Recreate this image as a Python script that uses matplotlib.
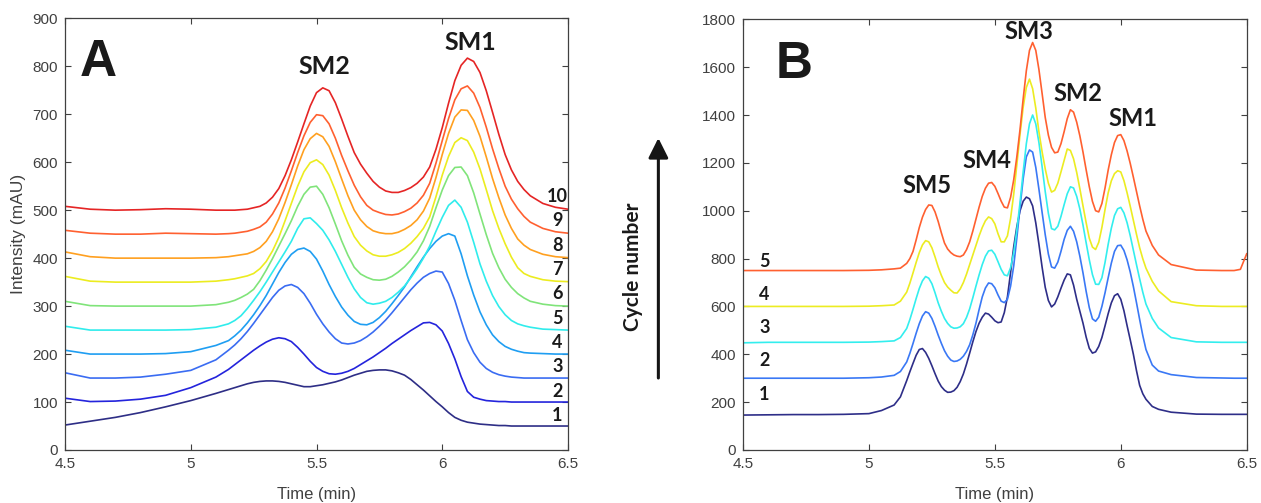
import matplotlib
matplotlib.use('Agg')
import matplotlib.pyplot as plt

plt.rcParams['font.family'] = ['Liberation Sans', 'DejaVu Sans']

# ---- panel A: 10 cycles (mAU) ----
# time grid: coarse on the flat start, 0.025 min through the peaks
tA = ([4.5, 4.6, 4.7, 4.8, 4.9, 5.0, 5.1, 5.15]
      + [round(5.175 + 0.025 * i, 4) for i in range(48)]
      + [6.4, 6.45, 6.5])

a_c1 = [52, 60, 68, 78, 90, 103, 118, 126,
        130, 134, 138, 141, 143, 144, 144, 143, 141, 138,
        135, 132, 132, 134, 136, 139, 142, 146, 151, 156,
        160, 164, 166, 167, 167, 165, 161, 156, 147, 136,
        125, 113, 101, 90, 78, 68, 62, 58, 56, 54,
        53, 52, 51, 51, 50, 50, 50, 50,
        50, 50, 50]
a_c2 = [108, 101, 102, 106, 114, 130, 152, 168,
        178, 188, 198, 208, 217, 225, 231, 234, 232, 226,
        214, 200, 185, 172, 164, 159, 158, 160, 164, 170,
        178, 186, 194, 203, 212, 222, 231, 240, 249, 257,
        265, 266, 261, 248, 222, 190, 153, 122, 110, 106,
        103, 102, 101, 101, 100, 100, 100, 100,
        100, 100, 100]
a_c3 = [161, 150, 150, 152, 158, 166, 188, 208,
        219, 232, 247, 264, 282, 300, 318, 333, 342, 345,
        339, 326, 306, 283, 263, 246, 232, 223, 221, 223,
        228, 236, 246, 258, 271, 286, 302, 318, 334, 348,
        360, 368, 373, 371, 347, 312, 270, 230, 203, 183,
        170, 162, 157, 154, 152, 151, 150, 150,
        150, 150, 150]
a_c4 = [208, 200, 200, 200, 201, 205, 218, 228,
        238, 250, 265, 282, 301, 322, 346, 370, 391, 408,
        418, 421, 414, 398, 373, 345, 320, 298, 281, 268,
        262, 261, 266, 276, 289, 305, 322, 340, 361, 382,
        402, 420, 435, 446, 451, 446, 409, 363, 323, 288,
        261, 240, 226, 216, 210, 206, 203, 202,
        201, 200, 200]
a_c5 = [258, 250, 250, 250, 250, 251, 256, 263,
        270, 280, 295, 312, 330, 350, 371, 392, 413, 435,
        462, 482, 484, 472, 458, 438, 414, 387, 360, 336,
        318, 307, 304, 306, 310, 318, 329, 342, 359, 378,
        400, 425, 456, 485, 510, 521, 506, 475, 433, 388,
        352, 322, 299, 282, 270, 263, 259, 256,
        252, 251, 250]
a_c6 = [310, 301, 300, 300, 300, 300, 303, 308,
        312, 318, 325, 335, 353, 375, 399, 425, 451, 478,
        508, 533, 548, 550, 533, 505, 471, 436, 406, 381,
        367, 360, 355, 354, 356, 362, 371, 382, 396, 413,
        436, 466, 505, 542, 572, 589, 590, 572, 536, 492,
        449, 410, 380, 356, 339, 326, 317, 310,
        304, 301, 300]
a_c7 = [362, 352, 350, 350, 350, 350, 352, 355,
        357, 360, 363, 368, 378, 393, 415, 443, 478, 514,
        550, 580, 599, 605, 595, 573, 541, 505, 473, 445,
        427, 415, 407, 404, 404, 407, 412, 420, 431, 445,
        462, 486, 528, 573, 612, 641, 651, 645, 621, 586,
        543, 499, 462, 430, 402, 380, 368, 362,
        355, 352, 351]
a_c8 = [413, 403, 400, 400, 400, 400, 401, 403,
        405, 407, 409, 414, 422, 435, 455, 482, 516, 553,
        592, 626, 649, 660, 653, 633, 601, 565, 530, 500,
        480, 466, 457, 453, 451, 451, 454, 460, 468, 480,
        498, 525, 568, 616, 660, 694, 709, 708, 687, 654,
        611, 566, 526, 490, 462, 440, 427, 418,
        408, 403, 401]
a_c9 = [458, 452, 450, 450, 452, 451, 450, 451,
        452, 454, 456, 460, 465, 475, 492, 515, 546, 582,
        620, 655, 683, 699, 697, 680, 650, 614, 582, 552,
        528, 510, 500, 495, 491, 490, 492, 497, 504, 515,
        531, 556, 598, 645, 691, 730, 753, 759, 744, 714,
        673, 628, 587, 550, 523, 503, 487, 475,
        462, 455, 452]
a_c10 = [508, 502, 500, 501, 503, 502, 500, 500,
         500, 501, 502, 505, 508, 515, 527, 545, 572, 605,
         642, 680, 717, 745, 755, 749, 724, 690, 654, 620,
         596, 577, 560, 548, 540, 537, 537, 541, 547, 556,
         569, 590, 627, 672, 723, 770, 802, 817, 810, 787,
         749, 704, 658, 616, 584, 560, 543, 530,
         514, 506, 502]
colors_A = ['#2e2e86', '#2424dc', '#3a6cf2', '#1f9ef2', '#30ecec',
            '#80e47a', '#ecec20', '#ffa020', '#ff6030', '#e52525']
labels_A = ['1', '2', '3', '4', '5', '6', '7', '8', '9', '10']
label_y_A = [71, 122, 174, 224, 275, 327, 377, 427, 479, 529]

# ---- panel B: 5 cycles ----
tB = ([4.5, 4.6, 4.7, 4.8, 4.9, 5.0, 5.05, 5.1, 5.125, 5.15]
      + [round(5.1625 + 0.0125 * i, 4) for i in range(76)]
      + [6.125, 6.15, 6.2, 6.3, 6.4, 6.45, 6.475, 6.5])

b_c1 = [146, 147, 148, 148, 149, 152, 165, 188, 222, 290,
        327, 362, 396, 420, 424, 408, 383, 352, 319, 288,
        265, 250, 241, 242, 248, 262, 286, 318, 359, 405,
        452, 495, 530, 555, 572, 568, 555, 540, 532, 535,
        574, 640, 742, 850, 935, 1000, 1040, 1057, 1050, 1020,
        949, 860, 765, 680, 625, 598, 610, 640, 676, 710,
        736, 732, 689, 630, 580, 530, 472, 425, 405, 410,
        433, 470, 519, 570, 615, 645, 653, 630, 582, 520,
        461, 400, 331, 270, 235, 212,
        182, 170, 158, 150, 149, 149, 149, 149]
b_c2 = [300, 300, 300, 300, 300, 302, 305, 312, 328, 368,
        404, 445, 488, 528, 560, 578, 572, 550, 517, 480,
        446, 415, 392, 376, 370, 372, 379, 392, 412, 440,
        481, 530, 587, 640, 677, 698, 695, 678, 648, 622,
        616, 630, 685, 770, 888, 1015, 1134, 1225, 1254, 1245,
        1181, 1090, 994, 900, 819, 765, 760, 785, 830, 880,
        918, 935, 914, 870, 810, 740, 663, 595, 548, 538,
        555, 600, 657, 720, 781, 830, 854, 856, 834, 795,
        744, 683, 615, 545, 478, 420,
        355, 330, 315, 303, 301, 300, 300, 300]
b_c3 = [448, 450, 450, 450, 450, 451, 453, 456, 470, 508,
        545, 588, 633, 675, 707, 725, 718, 695, 657, 615,
        580, 550, 529, 515, 509, 510, 515, 528, 554, 590,
        636, 685, 732, 775, 810, 832, 835, 818, 787, 755,
        732, 728, 762, 825, 921, 1035, 1163, 1280, 1363, 1400,
        1363, 1285, 1185, 1080, 989, 925, 920, 935, 976, 1025,
        1071, 1100, 1095, 1060, 1007, 940, 866, 795, 733, 693,
        692, 720, 784, 860, 927, 980, 1008, 1014, 991, 950,
        896, 835, 774, 715, 659, 610,
        550, 510, 470, 452, 450, 450, 450, 450]
b_c4 = [600, 600, 600, 600, 600, 601, 603, 606, 622, 660,
        697, 740, 784, 825, 857, 875, 870, 845, 807, 765,
        730, 700, 681, 668, 657, 656, 673, 700, 735, 775,
        815, 855, 895, 930, 958, 974, 967, 945, 904, 870,
        870, 895, 968, 1070, 1194, 1320, 1433, 1515, 1550, 1510,
        1429, 1330, 1247, 1175, 1115, 1078, 1085, 1115, 1162, 1210,
        1258, 1252, 1217, 1160, 1092, 1020, 950, 885, 848, 838,
        868, 930, 1005, 1075, 1125, 1155, 1167, 1162, 1126, 1075,
        1019, 960, 901, 845, 799, 760,
        705, 665, 620, 603, 600, 600, 600, 600]
b_c5 = [750, 750, 750, 750, 750, 751, 753, 757, 760, 780,
        800, 830, 878, 930, 973, 1005, 1024, 1022, 995, 955,
        908, 865, 840, 825, 815, 810, 808, 815, 837, 870,
        915, 965, 1015, 1060, 1094, 1115, 1118, 1102, 1072, 1040,
        1015, 1012, 1056, 1130, 1227, 1340, 1468, 1585, 1670, 1703,
        1670, 1590, 1491, 1390, 1316, 1265, 1242, 1245, 1280, 1330,
        1385, 1422, 1412, 1370, 1313, 1245, 1171, 1100, 1039, 1000,
        995, 1030, 1095, 1170, 1234, 1285, 1314, 1318, 1293, 1250,
        1198, 1140, 1080, 1020, 964, 915,
        855, 815, 775, 752, 750, 750, 755, 820]
colors_B = ['#2e2e88', '#3a78f5', '#33eeee', '#ecec22', '#ff6030']
labels_B = ['1', '2', '3', '4', '5']
label_y_B = [230, 376, 510, 648, 787]

peaks_A = ['SM2', 'SM1']
peak_pos_A = [(5.53, 800), (6.11, 850)]
peaks_B = ['SM5', 'SM4', 'SM3', 'SM2', 'SM1']
peak_pos_B = [(5.229, 1107), (5.467, 1208), (5.634, 1751), (5.83, 1490), (6.048, 1386)]

x_ticks = [4.5, 5, 5.5, 6, 6.5]
x_tick_labels = ['4.5', '5', '5.5', '6', '6.5']

GREY = '#404040'
BOLD = ['Lato', 'DejaVu Sans']


def style(ax, ymax, ystep):
    ax.set_xlim(4.5, 6.5)
    ax.set_ylim(0, ymax)
    ax.set_xticks(x_ticks)
    ax.set_xticklabels(x_tick_labels)
    ax.set_yticks(range(0, ymax + 1, ystep))
    ax.tick_params(direction='in', top=True, right=True, length=4, width=0.8,
                   color=GREY, labelsize=11, labelcolor=GREY, pad=5)
    for s in ax.spines.values():
        s.set_color(GREY)
        s.set_linewidth(0.9)
    ax.set_xlabel('Time (min)', fontsize=12, color=GREY, va='top')
    ax.xaxis.set_label_coords(0.5, -0.085)


fig = plt.figure(figsize=(12.61, 5.03), dpi=100)
axA = fig.add_axes([0.05155, 0.10537, 0.39889, 0.85825])
axB = fig.add_axes([0.58922, 0.10537, 0.39944, 0.85626])

# panel A
curves_A = [a_c1, a_c2, a_c3, a_c4, a_c5, a_c6, a_c7, a_c8, a_c9, a_c10]
for y, c in zip(curves_A, colors_A):
    axA.plot(tA, y, color=c, lw=1.2, solid_joinstyle='round')
for lab, yy in zip(labels_A, label_y_A):
    axA.text(6.458, yy, lab, ha='center', va='center', fontsize=13,
             fontweight='bold', family=BOLD, color='#1a1a1a')
for lab, (xx, yy) in zip(peaks_A, peak_pos_A):
    axA.text(xx, yy, lab, ha='center', va='center', fontsize=18,
             fontweight='bold', family=BOLD, color='#1a1a1a')
axA.text(4.633, 807, 'A', ha='center', va='center', fontsize=37,
         fontweight='bold', color='#1a1a1a')
style(axA, 900, 100)
axA.set_ylabel('Intensity (mAU)', fontsize=12.5, color=GREY)
axA.yaxis.set_label_coords(-0.078, 0.5)

# panel B
curves_B = [b_c1, b_c2, b_c3, b_c4, b_c5]
for y, c in zip(curves_B, colors_B):
    axB.plot(tB, y, color=c, lw=1.2, solid_joinstyle='round')
for lab, yy in zip(labels_B, label_y_B):
    axB.text(4.585, yy, lab, ha='center', va='center', fontsize=13,
             fontweight='bold', family=BOLD, color='#1a1a1a')
for lab, (xx, yy) in zip(peaks_B, peak_pos_B):
    axB.text(xx, yy, lab, ha='center', va='center', fontsize=17,
             fontweight='bold', family=BOLD, color='#1a1a1a')
axB.text(4.702, 1613, 'B', ha='center', va='center', fontsize=37,
         fontweight='bold', color='#1a1a1a')
style(axB, 1800, 200)

# cycle-number arrow between the panels
axA.annotate('', xy=(0.5221, 0.7256), xytext=(0.5221, 0.2485),
             xycoords='figure fraction', textcoords='figure fraction',
             arrowprops=dict(arrowstyle='-|>', lw=2.2, color='#151515',
                             mutation_scale=30, shrinkA=0, shrinkB=0),
             annotation_clip=False)
fig.text(0.5016, 0.4698, 'Cycle number', rotation=90, ha='center', va='center',
         fontsize=15, fontweight='bold', family=BOLD, color='#1a1a1a')

fig.savefig('out.png', dpi=100)
